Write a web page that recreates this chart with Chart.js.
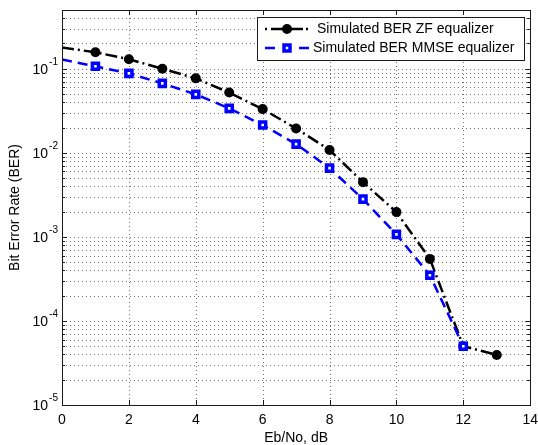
<!DOCTYPE html>
<html>
<head>
<meta charset="utf-8">
<script src="https://cdn.jsdelivr.net/npm/chart.js@4/dist/chart.umd.min.js"></script>
<style>
  html, body { margin: 0; padding: 0; background: #fff; }
  #wrap { width: 538px; height: 445px; }
</style>
</head>
<body>
<div id="wrap"><canvas id="c" width="538" height="445"></canvas></div>
<script>
// Eb/No points (dB)
const ebNo = [0, 1, 2, 3, 4, 5, 6, 7, 8, 9, 10, 11, 12, 13];
// Simulated bit error rate, zero-forcing equalizer
const berZF = [0.179, 0.157, 0.130, 0.100, 0.0769, 0.0521, 0.0331, 0.0195, 0.0108, 0.00448, 0.00197, 0.000547, 0.00005, 0.0000394];
// Simulated bit error rate, MMSE equalizer
const berMMSE = [0.129, 0.107, 0.0881, 0.067, 0.0496, 0.0338, 0.0214, 0.0127, 0.00658, 0.00281, 0.00107, 0.00035, 0.00005, null];
// Axis ticks
const xTicks = [0, 2, 4, 6, 8, 10, 12, 14];
const yDecades = [-5, -4, -3, -2, -1];
const legendLabels = ['Simulated BER ZF equalizer', 'Simulated BER MMSE equalizer'];
const xTitle = 'Eb/No, dB';
const yTitle = 'Bit Error Rate (BER)';

const FONT = '"Liberation Sans", Arial, Helvetica, sans-serif';
const Y_MIN = 1e-5, Y_MAX = 0.5;

// all log grid positions: 1..9 x 10^k within the axis range
function logGridValues() {
  const vals = [];
  for (const e of yDecades.concat([0])) {
    for (let m = 1; m <= 9; m++) {
      const v = m * Math.pow(10, e);
      if (v >= Y_MIN * 0.999 && v <= Y_MAX * 1.001) vals.push({ v, major: m === 1 });
    }
  }
  return vals;
}

const axesPlugin = {
  id: 'matlabAxes',
  beforeDatasetsDraw(chart) {
    const { ctx, chartArea: a, scales: { x, y } } = chart;
    ctx.save();
    ctx.strokeStyle = 'rgba(0,0,0,0.55)';
    ctx.lineWidth = 1;
    ctx.setLineDash([1, 3]);
    // horizontal dotted grid (decades and minor)
    for (const g of logGridValues()) {
      const py = Math.round(y.getPixelForValue(g.v)) + 0.5;
      if (py <= a.top + 1 || py >= a.bottom - 1) continue;
      ctx.beginPath(); ctx.moveTo(a.left, py); ctx.lineTo(a.right, py); ctx.stroke();
    }
    // vertical dotted grid
    for (const t of xTicks) {
      const px = Math.round(x.getPixelForValue(t)) + 0.5;
      if (px <= a.left + 1 || px >= a.right - 1) continue;
      ctx.beginPath(); ctx.moveTo(px, a.top); ctx.lineTo(px, a.bottom); ctx.stroke();
    }
    ctx.restore();
  },
  afterDatasetsDraw(chart) {
    const { ctx, chartArea: a, scales: { x, y } } = chart;
    ctx.save();
    ctx.setLineDash([]);
    ctx.strokeStyle = '#1a1a1a';
    ctx.lineWidth = 1;
    // box
    ctx.strokeRect(Math.round(a.left) + 0.5, Math.round(a.top) + 0.5,
      Math.round(a.right - a.left), Math.round(a.bottom - a.top));
    // inward tick marks, all four sides
    ctx.beginPath();
    for (const t of xTicks) {
      const px = Math.round(x.getPixelForValue(t)) + 0.5;
      ctx.moveTo(px, a.bottom); ctx.lineTo(px, a.bottom - 5);
      ctx.moveTo(px, a.top); ctx.lineTo(px, a.top + 5);
    }
    for (const g of logGridValues()) {
      const py = Math.round(y.getPixelForValue(g.v)) + 0.5;
      const len = g.major ? 5 : 3;
      ctx.moveTo(a.left, py); ctx.lineTo(a.left + len, py);
      ctx.moveTo(a.right, py); ctx.lineTo(a.right - len, py);
    }
    ctx.stroke();

    // tick labels
    ctx.fillStyle = '#000';
    ctx.font = '14px ' + FONT;
    ctx.textAlign = 'center';
    ctx.textBaseline = 'middle';
    for (const t of xTicks) {
      ctx.fillText(String(t), x.getPixelForValue(t), a.bottom + 15);
    }
    for (const e of yDecades) {
      const py = y.getPixelForValue(Math.pow(10, e));
      const expTxt = '-' + Math.abs(e);
      ctx.font = '10px ' + FONT;
      ctx.textAlign = 'right';
      const expRight = a.left - 4;
      ctx.fillText(expTxt, expRight, py - 7);
      const w = ctx.measureText(expTxt).width;
      ctx.font = '14px ' + FONT;
      ctx.fillText('10', expRight - w - 1, py + 1);
    }

    // axis titles
    ctx.font = '14px ' + FONT;
    ctx.textAlign = 'center';
    ctx.fillText(xTitle, (a.left + a.right) / 2, a.bottom + 33);
    ctx.save();
    ctx.translate(15, (a.top + a.bottom) / 2);
    ctx.rotate(-Math.PI / 2);
    ctx.fillText(yTitle, 0, 0);
    ctx.restore();

    // legend
    const lx = 257, ly = 17, lw = 267, lh = 43;
    ctx.fillStyle = '#fff';
    ctx.fillRect(lx, ly, lw, lh);
    ctx.strokeStyle = '#1a1a1a';
    ctx.lineWidth = 1;
    ctx.strokeRect(lx + 0.5, ly + 0.5, lw, lh);

    const ds = chart.data.datasets;
    // ZF sample: dash-dot with filled circle
    let yy = 29;
    ctx.strokeStyle = ds[0].borderColor;
    ctx.lineWidth = 2.5;
    ctx.beginPath();
    ctx.moveTo(265, yy); ctx.lineTo(267, yy);
    ctx.moveTo(271, yy); ctx.lineTo(284, yy);
    ctx.moveTo(290, yy); ctx.lineTo(303, yy);
    ctx.moveTo(306, yy); ctx.lineTo(308, yy);
    ctx.stroke();
    ctx.fillStyle = ds[0].pointBackgroundColor;
    ctx.beginPath(); ctx.arc(287, yy, 5, 0, Math.PI * 2); ctx.fill();
    ctx.fillStyle = '#000';
    ctx.font = '14px ' + FONT;
    ctx.textAlign = 'left';
    ctx.fillText(legendLabels[0], 317, yy);

    // MMSE sample: dashed with square
    yy = 48;
    ctx.strokeStyle = ds[1].borderColor;
    ctx.beginPath();
    ctx.moveTo(265, yy); ctx.lineTo(275, yy);
    ctx.moveTo(299, yy); ctx.lineTo(309, yy);
    ctx.stroke();
    ctx.lineWidth = 3.5;
    ctx.fillStyle = '#fff';
    ctx.fillRect(284, yy - 3, 6, 6);
    ctx.strokeRect(284, yy - 3, 6, 6);
    ctx.fillStyle = '#000';
    ctx.fillText(legendLabels[1], 313, yy);
    ctx.restore();
  }
};

const zfRadius = ebNo.map((v, i) => (i === 0 ? 0 : 5));
const mmseRadius = ebNo.map((v, i) => (i === 0 ? 0 : 4.3));

new Chart(document.getElementById('c'), {
  type: 'line',
  data: {
    datasets: [
      {
        label: legendLabels[0],
        data: ebNo.map((v, i) => ({ x: v, y: berZF[i] })),
        borderColor: '#000000',
        backgroundColor: '#000000',
        pointBackgroundColor: '#000000',
        pointBorderColor: '#000000',
        borderWidth: 2.5,
        borderDash: [12, 4, 2, 4],
        pointStyle: 'circle',
        pointRadius: zfRadius,
        pointBorderWidth: 0,
        tension: 0,
        fill: false,
        order: 1
      },
      {
        label: legendLabels[1],
        data: ebNo.map((v, i) => ({ x: v, y: berMMSE[i] })),
        borderColor: '#0000ff',
        backgroundColor: '#ffffff',
        pointBackgroundColor: '#ffffff',
        pointBorderColor: '#0000ff',
        borderWidth: 2.5,
        borderDash: [10, 6],
        pointStyle: 'rect',
        pointRadius: mmseRadius,
        pointBorderWidth: 3.5,
        tension: 0,
        fill: false,
        spanGaps: false,
        order: 0
      }
    ]
  },
  options: {
    responsive: false,
    animation: false,
    devicePixelRatio: 1,
    layout: { padding: { left: 62, right: 7, top: 10, bottom: 40 } },
    plugins: { legend: { display: false }, tooltip: { enabled: false } },
    scales: {
      x: { type: 'linear', min: 0, max: 14, display: false },
      y: { type: 'logarithmic', min: Y_MIN, max: Y_MAX, display: false }
    }
  },
  plugins: [axesPlugin]
});
</script>
</body>
</html>
